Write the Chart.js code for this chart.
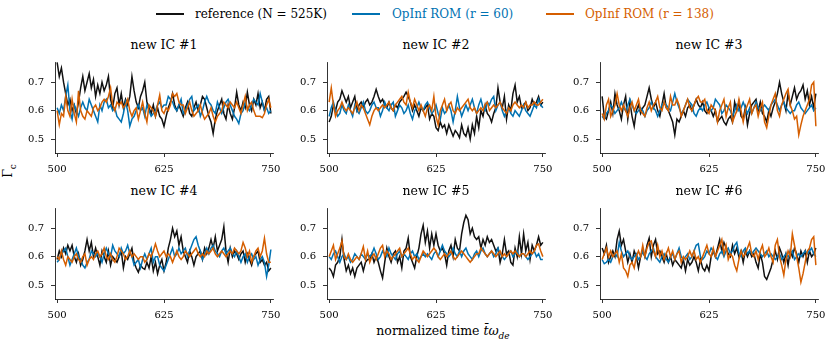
<!DOCTYPE html>
<html>
<head>
<meta charset="utf-8">
<script src="https://cdn.jsdelivr.net/npm/chart.js@4.4.1/dist/chart.umd.min.js"></script>
<style>
  body { margin: 0; background: #fff; width: 830px; height: 344px; position: relative; overflow: hidden;
         font-family: "DejaVu Serif", serif; color: #000; }
  .lgline { position: absolute; height: 2px; }
  .lgtext { position: absolute; font-size: 12px; line-height: 16px; top: 6px; white-space: nowrap; }
  .title { position: absolute; font-size: 12.5px; white-space: nowrap; transform: translate(-50%, -50%); }
  .panel { position: absolute; }
</style>
</head>
<body>

<div class="lgline" style="left:156px;top:13px;width:28px;background:#111;"></div>
<div class="lgtext" style="left:195px;">reference (N = 525K)</div>
<div class="lgline" style="left:352px;top:13px;width:28px;background:#0072B2;"></div>
<div class="lgtext" style="left:392px;color:#0072B2;">OpInf ROM (r = 60)</div>
<div class="lgline" style="left:546px;top:13px;width:28px;background:#D55E00;"></div>
<div class="lgtext" style="left:585px;color:#D55E00;">OpInf ROM (r = 138)</div>

<div class="title" style="left:9px;top:171px;transform:translate(-50%,-50%) rotate(-90deg);">&Gamma;<sub style="font-size:9px;">c</sub></div>
<div class="title" style="left:443px;top:332px;">normalized time <i>t&#772;&omega;</i><sub style="font-size:9px;"><i>de</i></sub></div>

<script>
// time grid (dt = 2.5)
const time = Array.from({length: 101}, (_, i) => 500 + 2.5 * i);
const xTicks = [500, 625, 750];
const yTicks = [0.5, 0.6, 0.7];
const titles = ['new IC #1', 'new IC #2', 'new IC #3', 'new IC #4', 'new IC #5', 'new IC #6'];

const ref1 = [0.77,0.72,0.75,0.70,0.66,0.62,0.64,0.60,0.62,0.59,
  0.63,0.68,0.72,0.67,0.70,0.73,0.68,0.71,0.65,0.69,
  0.66,0.70,0.67,0.69,0.72,0.64,0.61,0.66,0.68,0.62,
  0.66,0.61,0.64,0.62,0.65,0.72,0.67,0.63,0.61,0.65,
  0.67,0.70,0.63,0.61,0.59,0.62,0.58,0.61,0.58,0.57,
  0.545,0.58,0.61,0.63,0.66,0.62,0.60,0.62,0.60,0.58,
  0.61,0.63,0.59,0.58,0.61,0.63,0.60,0.62,0.65,0.64,
  0.61,0.58,0.56,0.52,0.57,0.60,0.62,0.64,0.59,0.57,
  0.62,0.59,0.57,0.61,0.665,0.62,0.60,0.63,0.61,0.665,
  0.62,0.60,0.64,0.62,0.66,0.61,0.63,0.60,0.64,0.65,
  0.59];
const rom60_1 = [0.61,0.59,0.62,0.60,0.65,0.69,0.60,0.57,0.62,0.60,
  0.58,0.61,0.63,0.61,0.60,0.64,0.62,0.60,0.58,0.56,
  0.62,0.60,0.63,0.64,0.61,0.62,0.60,0.61,0.58,0.57,
  0.56,0.59,0.63,0.60,0.545,0.57,0.58,0.60,0.62,0.60,
  0.61,0.58,0.62,0.60,0.58,0.59,0.60,0.62,0.63,0.61,
  0.62,0.62,0.65,0.64,0.63,0.61,0.60,0.62,0.64,0.59,
  0.60,0.62,0.64,0.65,0.60,0.61,0.62,0.58,0.60,0.63,
  0.65,0.63,0.62,0.60,0.59,0.63,0.61,0.59,0.61,0.63,
  0.64,0.62,0.60,0.58,0.57,0.555,0.59,0.60,0.63,0.61,
  0.60,0.62,0.64,0.63,0.62,0.66,0.63,0.60,0.61,0.59,
  0.60];
const rom138_1 = [0.60,0.55,0.59,0.58,0.65,0.60,0.58,0.64,0.59,0.56,
  0.67,0.60,0.58,0.57,0.60,0.59,0.58,0.61,0.62,0.60,
  0.61,0.63,0.64,0.63,0.65,0.68,0.62,0.60,0.63,0.62,
  0.63,0.61,0.62,0.64,0.60,0.58,0.60,0.61,0.57,0.60,
  0.63,0.59,0.56,0.62,0.61,0.60,0.58,0.62,0.655,0.60,
  0.59,0.61,0.60,0.62,0.66,0.65,0.66,0.63,0.62,0.62,
  0.59,0.61,0.63,0.60,0.58,0.59,0.60,0.62,0.59,0.57,
  0.58,0.59,0.61,0.58,0.56,0.58,0.59,0.60,0.63,0.62,
  0.61,0.63,0.62,0.61,0.63,0.61,0.59,0.62,0.65,0.60,
  0.62,0.63,0.60,0.58,0.58,0.58,0.575,0.59,0.62,0.64,
  0.61];

const ref2 = [0.56,0.58,0.62,0.60,0.63,0.64,0.67,0.65,0.63,0.65,
  0.61,0.63,0.65,0.60,0.62,0.63,0.61,0.63,0.64,0.62,
  0.63,0.65,0.675,0.65,0.63,0.64,0.62,0.61,0.63,0.61,
  0.60,0.62,0.61,0.63,0.64,0.65,0.665,0.65,0.63,0.60,
  0.62,0.60,0.58,0.61,0.60,0.61,0.62,0.57,0.59,0.58,
  0.54,0.53,0.56,0.54,0.55,0.52,0.55,0.53,0.51,0.53,
  0.52,0.505,0.55,0.52,0.51,0.54,0.50,0.55,0.52,0.58,
  0.54,0.60,0.58,0.62,0.59,0.58,0.56,0.59,0.61,0.68,
  0.63,0.61,0.65,0.57,0.62,0.60,0.66,0.69,0.63,0.65,
  0.61,0.62,0.63,0.60,0.61,0.64,0.62,0.63,0.65,0.62,
  0.63];
const rom60_2 = [0.58,0.61,0.63,0.60,0.58,0.59,0.62,0.60,0.59,0.62,
  0.60,0.58,0.62,0.60,0.59,0.61,0.63,0.60,0.59,0.60,
  0.62,0.63,0.61,0.61,0.58,0.60,0.63,0.61,0.60,0.62,
  0.63,0.58,0.60,0.62,0.61,0.59,0.60,0.62,0.59,0.57,
  0.60,0.61,0.63,0.61,0.60,0.62,0.63,0.61,0.59,0.60,
  0.62,0.59,0.57,0.61,0.59,0.60,0.62,0.60,0.56,0.60,
  0.65,0.61,0.58,0.60,0.62,0.60,0.62,0.64,0.61,0.59,
  0.62,0.64,0.61,0.60,0.63,0.62,0.64,0.65,0.60,0.62,
  0.63,0.60,0.58,0.60,0.61,0.59,0.58,0.60,0.59,0.58,
  0.60,0.62,0.60,0.59,0.58,0.60,0.62,0.61,0.64,0.62,
  0.61];
const rom138_2 = [0.63,0.68,0.62,0.58,0.60,0.61,0.63,0.61,0.60,0.61,
  0.60,0.59,0.61,0.63,0.60,0.62,0.61,0.59,0.57,0.55,
  0.58,0.60,0.61,0.60,0.61,0.62,0.61,0.62,0.63,0.61,
  0.60,0.62,0.63,0.64,0.65,0.63,0.62,0.665,0.63,0.61,
  0.64,0.62,0.60,0.62,0.60,0.58,0.61,0.62,0.60,0.65,
  0.58,0.55,0.60,0.62,0.64,0.60,0.62,0.63,0.60,0.59,
  0.61,0.60,0.61,0.62,0.63,0.64,0.61,0.60,0.61,0.59,
  0.60,0.61,0.60,0.62,0.63,0.60,0.61,0.62,0.61,0.62,
  0.63,0.61,0.60,0.59,0.61,0.60,0.62,0.63,0.62,0.61,
  0.62,0.61,0.63,0.61,0.62,0.62,0.63,0.62,0.62,0.63,
  0.64];

const ref3 = [0.65,0.58,0.57,0.60,0.63,0.59,0.66,0.62,0.60,0.57,
  0.62,0.65,0.57,0.63,0.58,0.545,0.60,0.62,0.59,0.61,
  0.62,0.65,0.68,0.64,0.61,0.63,0.60,0.58,0.62,0.66,
  0.61,0.60,0.58,0.56,0.515,0.57,0.56,0.58,0.60,0.58,
  0.61,0.62,0.60,0.62,0.64,0.62,0.61,0.63,0.60,0.59,
  0.61,0.60,0.58,0.60,0.56,0.57,0.58,0.56,0.55,0.57,
  0.58,0.56,0.63,0.60,0.63,0.58,0.57,0.61,0.55,0.59,
  0.62,0.63,0.64,0.60,0.63,0.59,0.58,0.56,0.60,0.58,
  0.61,0.63,0.66,0.70,0.66,0.63,0.60,0.66,0.62,0.65,
  0.68,0.64,0.66,0.67,0.69,0.64,0.67,0.62,0.65,0.61,
  0.66];
const rom60_3 = [0.58,0.57,0.59,0.60,0.62,0.61,0.59,0.60,0.61,0.63,
  0.61,0.60,0.62,0.64,0.62,0.60,0.59,0.60,0.61,0.60,
  0.58,0.60,0.61,0.63,0.61,0.60,0.58,0.60,0.62,0.63,
  0.62,0.61,0.60,0.63,0.66,0.63,0.61,0.59,0.60,0.62,
  0.64,0.63,0.62,0.59,0.58,0.60,0.61,0.60,0.62,0.63,
  0.61,0.60,0.61,0.64,0.63,0.62,0.59,0.60,0.62,0.61,
  0.60,0.58,0.60,0.62,0.60,0.61,0.63,0.61,0.59,0.61,
  0.59,0.61,0.63,0.61,0.60,0.61,0.62,0.61,0.60,0.62,
  0.63,0.64,0.62,0.60,0.62,0.63,0.61,0.60,0.59,0.60,
  0.60,0.62,0.63,0.61,0.60,0.59,0.60,0.61,0.62,0.60,
  0.61];
const rom138_3 = [0.59,0.57,0.62,0.64,0.58,0.60,0.62,0.66,0.62,0.60,
  0.62,0.60,0.58,0.61,0.63,0.60,0.62,0.64,0.60,0.59,
  0.58,0.61,0.63,0.60,0.62,0.63,0.65,0.61,0.60,0.63,
  0.61,0.60,0.65,0.62,0.62,0.64,0.62,0.58,0.60,0.62,
  0.64,0.61,0.60,0.62,0.64,0.65,0.63,0.63,0.64,0.60,
  0.59,0.62,0.61,0.60,0.56,0.60,0.62,0.64,0.58,0.61,
  0.63,0.56,0.58,0.60,0.64,0.60,0.56,0.60,0.62,0.64,
  0.59,0.61,0.62,0.58,0.61,0.63,0.56,0.54,0.58,0.62,
  0.64,0.66,0.60,0.58,0.62,0.64,0.66,0.675,0.62,0.60,
  0.57,0.58,0.515,0.55,0.58,0.60,0.62,0.64,0.69,0.70,
  0.545];

const ref4 = [0.59,0.62,0.60,0.63,0.61,0.64,0.62,0.64,0.60,0.58,
  0.61,0.57,0.59,0.62,0.66,0.62,0.65,0.60,0.63,0.60,
  0.57,0.62,0.60,0.58,0.62,0.57,0.60,0.59,0.58,0.60,
  0.62,0.56,0.60,0.59,0.61,0.63,0.58,0.56,0.545,0.57,
  0.56,0.555,0.58,0.56,0.60,0.55,0.58,0.54,0.57,0.59,
  0.55,0.58,0.63,0.66,0.70,0.67,0.69,0.64,0.67,0.62,
  0.60,0.58,0.62,0.60,0.57,0.60,0.61,0.62,0.59,0.63,
  0.61,0.63,0.66,0.63,0.67,0.62,0.64,0.66,0.705,0.62,
  0.58,0.63,0.60,0.62,0.61,0.59,0.61,0.62,0.58,0.61,
  0.59,0.57,0.60,0.61,0.62,0.58,0.59,0.57,0.58,0.55,
  0.56];
const rom60_4 = [0.58,0.59,0.61,0.62,0.63,0.60,0.57,0.59,0.61,0.63,
  0.60,0.59,0.57,0.56,0.58,0.59,0.62,0.61,0.60,0.61,
  0.60,0.58,0.61,0.63,0.61,0.60,0.64,0.62,0.61,0.60,
  0.63,0.61,0.62,0.64,0.61,0.60,0.57,0.58,0.59,0.56,
  0.59,0.61,0.59,0.61,0.63,0.58,0.60,0.60,0.57,0.56,
  0.55,0.57,0.59,0.61,0.63,0.60,0.61,0.63,0.61,0.62,
  0.63,0.60,0.62,0.64,0.66,0.67,0.64,0.62,0.59,0.61,
  0.63,0.61,0.63,0.64,0.62,0.61,0.60,0.62,0.63,0.61,
  0.62,0.63,0.61,0.60,0.62,0.60,0.58,0.60,0.61,0.58,
  0.60,0.61,0.59,0.60,0.57,0.59,0.60,0.58,0.53,0.57,
  0.625];
const rom138_4 = [0.60,0.59,0.62,0.59,0.57,0.60,0.59,0.58,0.60,0.61,
  0.59,0.58,0.60,0.61,0.57,0.59,0.60,0.59,0.61,0.62,
  0.60,0.61,0.63,0.60,0.59,0.61,0.59,0.58,0.60,0.63,
  0.62,0.61,0.59,0.60,0.62,0.60,0.61,0.60,0.59,0.60,
  0.60,0.58,0.59,0.61,0.60,0.62,0.645,0.62,0.60,0.61,
  0.62,0.60,0.61,0.60,0.58,0.60,0.62,0.60,0.59,0.60,
  0.62,0.61,0.60,0.61,0.62,0.63,0.61,0.60,0.61,0.60,
  0.62,0.61,0.62,0.63,0.61,0.60,0.61,0.62,0.61,0.60,
  0.61,0.62,0.61,0.63,0.62,0.61,0.62,0.65,0.63,0.60,
  0.62,0.58,0.60,0.62,0.63,0.60,0.62,0.665,0.61,0.58,
  0.58];

const ref5 = [0.56,0.55,0.53,0.57,0.58,0.60,0.66,0.59,0.55,0.57,
  0.54,0.56,0.53,0.56,0.57,0.58,0.55,0.58,0.59,0.59,
  0.61,0.58,0.60,0.58,0.55,0.525,0.58,0.63,0.60,0.58,
  0.61,0.62,0.58,0.60,0.56,0.62,0.63,0.665,0.60,0.58,
  0.56,0.60,0.63,0.68,0.71,0.65,0.69,0.63,0.68,0.64,
  0.68,0.64,0.62,0.63,0.61,0.57,0.62,0.64,0.60,0.66,
  0.63,0.62,0.68,0.72,0.745,0.73,0.68,0.70,0.67,0.66,
  0.67,0.63,0.66,0.64,0.67,0.65,0.66,0.64,0.62,0.63,
  0.58,0.61,0.66,0.61,0.62,0.58,0.57,0.63,0.60,0.67,
  0.61,0.68,0.62,0.65,0.59,0.64,0.62,0.64,0.67,0.64,
  0.65];
const rom60_5 = [0.60,0.59,0.61,0.62,0.60,0.58,0.60,0.61,0.59,0.60,
  0.58,0.59,0.61,0.60,0.59,0.61,0.60,0.59,0.61,0.60,
  0.61,0.63,0.61,0.59,0.60,0.62,0.61,0.60,0.63,0.61,
  0.60,0.59,0.61,0.62,0.60,0.61,0.60,0.59,0.61,0.62,
  0.60,0.61,0.59,0.60,0.61,0.60,0.61,0.60,0.59,0.61,
  0.62,0.60,0.62,0.64,0.62,0.61,0.60,0.61,0.63,0.61,
  0.60,0.62,0.60,0.62,0.63,0.61,0.60,0.59,0.61,0.62,
  0.60,0.62,0.63,0.61,0.60,0.61,0.62,0.60,0.61,0.63,
  0.61,0.60,0.59,0.60,0.61,0.62,0.60,0.61,0.62,0.60,
  0.61,0.61,0.60,0.59,0.60,0.61,0.62,0.60,0.61,0.59,
  0.59];
const rom138_5 = [0.60,0.62,0.64,0.59,0.61,0.63,0.655,0.60,0.59,0.61,
  0.59,0.58,0.59,0.60,0.59,0.61,0.635,0.59,0.62,0.58,
  0.60,0.61,0.59,0.61,0.63,0.64,0.60,0.62,0.61,0.59,
  0.60,0.61,0.62,0.63,0.60,0.61,0.62,0.63,0.61,0.59,
  0.60,0.59,0.58,0.60,0.62,0.61,0.60,0.61,0.62,0.63,
  0.62,0.60,0.59,0.60,0.61,0.60,0.61,0.62,0.60,0.59,
  0.60,0.61,0.62,0.61,0.60,0.59,0.58,0.59,0.60,0.61,
  0.61,0.63,0.62,0.61,0.60,0.61,0.62,0.61,0.60,0.61,
  0.62,0.60,0.61,0.60,0.61,0.62,0.61,0.62,0.61,0.60,
  0.61,0.61,0.60,0.61,0.62,0.61,0.62,0.64,0.645,0.62,
  0.60];

const ref6 = [0.63,0.61,0.64,0.58,0.60,0.62,0.60,0.66,0.69,0.64,
  0.66,0.62,0.58,0.61,0.58,0.62,0.60,0.56,0.60,0.62,
  0.60,0.64,0.665,0.60,0.64,0.66,0.61,0.62,0.60,0.58,
  0.61,0.58,0.60,0.57,0.59,0.58,0.57,0.56,0.59,0.55,
  0.59,0.57,0.58,0.60,0.58,0.55,0.59,0.56,0.55,0.57,
  0.55,0.60,0.62,0.60,0.63,0.66,0.62,0.65,0.63,0.61,
  0.60,0.64,0.61,0.63,0.60,0.62,0.58,0.62,0.60,0.62,
  0.60,0.61,0.58,0.56,0.61,0.58,0.53,0.52,0.54,0.56,
  0.59,0.62,0.59,0.63,0.61,0.58,0.61,0.57,0.62,0.60,
  0.63,0.61,0.58,0.62,0.60,0.62,0.58,0.62,0.60,0.61,
  0.63];
const rom60_6 = [0.59,0.575,0.58,0.59,0.58,0.60,0.61,0.60,0.65,0.62,
  0.60,0.61,0.62,0.60,0.59,0.60,0.61,0.59,0.60,0.62,
  0.60,0.59,0.61,0.62,0.63,0.60,0.59,0.58,0.60,0.61,
  0.59,0.58,0.60,0.61,0.59,0.61,0.63,0.60,0.59,0.60,
  0.61,0.59,0.60,0.62,0.64,0.645,0.60,0.59,0.60,0.62,
  0.61,0.63,0.62,0.60,0.59,0.61,0.62,0.60,0.62,0.63,
  0.61,0.62,0.64,0.65,0.61,0.60,0.62,0.63,0.61,0.62,
  0.61,0.62,0.63,0.62,0.61,0.60,0.61,0.62,0.60,0.61,
  0.60,0.59,0.60,0.61,0.59,0.60,0.61,0.60,0.61,0.62,
  0.59,0.60,0.61,0.60,0.61,0.62,0.61,0.62,0.63,0.61,
  0.60];
const rom138_6 = [0.59,0.61,0.63,0.60,0.62,0.60,0.61,0.62,0.58,0.61,
  0.56,0.55,0.53,0.57,0.58,0.56,0.60,0.62,0.60,0.64,
  0.60,0.63,0.65,0.655,0.62,0.60,0.64,0.60,0.62,0.59,
  0.61,0.63,0.60,0.62,0.59,0.61,0.62,0.58,0.60,0.59,
  0.60,0.62,0.60,0.62,0.59,0.60,0.58,0.60,0.62,0.64,
  0.61,0.60,0.63,0.60,0.62,0.64,0.66,0.61,0.64,0.59,
  0.61,0.60,0.57,0.55,0.59,0.62,0.60,0.61,0.63,0.65,
  0.61,0.60,0.62,0.59,0.62,0.64,0.60,0.61,0.63,0.60,
  0.58,0.64,0.66,0.60,0.57,0.535,0.59,0.62,0.60,0.68,
  0.64,0.60,0.56,0.51,0.54,0.58,0.62,0.63,0.66,0.67,
  0.57];

const panels = [
  [ref1, rom60_1, rom138_1], [ref2, rom60_2, rom138_2], [ref3, rom60_3, rom138_3],
  [ref4, rom60_4, rom138_4], [ref5, rom60_5, rom138_5], [ref6, rom60_6, rom138_6]
];

// layout of plot areas (px)
const colLeft = [55, 327, 600];
const rowTop = [57, 203];
const PW = 218, PH = 96, YW = 50, XH = 28, PT = 8, PR = 14;
const font = { family: '"DejaVu Serif", serif', size: 10 };

const pts = arr => arr.map((v, i) => ({ x: time[i], y: v }));

panels.forEach((p, k) => {
  const left = colLeft[k % 3], top = rowTop[Math.floor(k / 3)];

  const t = document.createElement('div');
  t.className = 'title';
  t.style.left = (left + PW / 2) + 'px';
  t.style.top = (top - 13) + 'px';
  t.textContent = titles[k];
  document.body.appendChild(t);

  const canvas = document.createElement('canvas');
  canvas.className = 'panel';
  canvas.width = YW + PW + PR;
  canvas.height = PT + PH + XH;
  canvas.style.left = (left - YW) + 'px';
  canvas.style.top = (top - PT) + 'px';
  document.body.appendChild(canvas);

  new Chart(canvas, {
    type: 'line',
    data: {
      datasets: [
        { data: pts(p[2]), borderColor: '#D55E00' },
        { data: pts(p[1]), borderColor: '#0072B2' },
        { data: pts(p[0]), borderColor: '#111111' }
      ]
    },
    options: {
      responsive: false,
      animation: false,
      layout: { padding: { top: PT, right: PR, left: 0, bottom: 0 } },
      elements: { line: { borderWidth: 1.5, tension: 0 }, point: { radius: 0 } },
      plugins: { legend: { display: false }, tooltip: { enabled: false }, title: { display: false } },
      scales: {
        x: {
          type: 'linear', min: 497.5, max: 752.5,
          afterFit: s => { s.height = XH; },
          afterBuildTicks: s => { s.ticks = xTicks.map(v => ({ value: v })); },
          ticks: { font, color: '#000', padding: 6, maxRotation: 0, callback: v => String(v) },
          grid: { drawOnChartArea: false, drawTicks: true, tickLength: 4, color: '#000', lineWidth: 0.8 },
          border: { display: true, color: '#000', width: 0.8 }
        },
        y: {
          min: 0.451, max: 0.771,
          afterFit: s => { s.width = YW; },
          afterBuildTicks: s => { s.ticks = yTicks.map(v => ({ value: v })); },
          ticks: { font, color: '#000', padding: 7, callback: v => v.toFixed(1) },
          grid: { drawOnChartArea: false, drawTicks: true, tickLength: 4, color: '#000', lineWidth: 0.8 },
          border: { display: true, color: '#000', width: 0.8 }
        }
      }
    }
  });
});
</script>
</body>
</html>
